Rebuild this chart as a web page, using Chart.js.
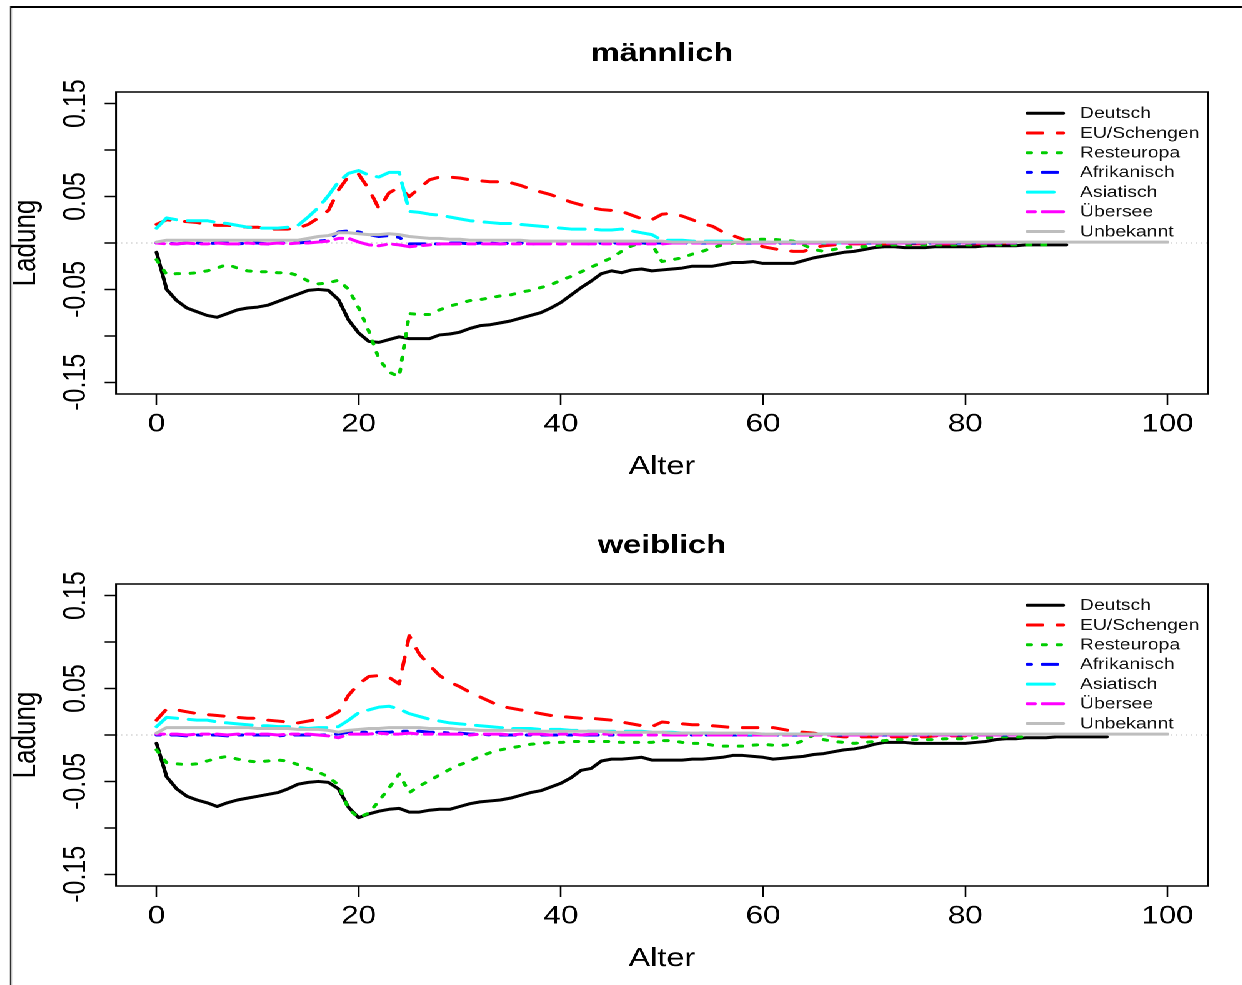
<!DOCTYPE html>
<html lang="de">
<head>
<meta charset="utf-8">
<title>Ladungen nach Alter</title>
<script src="https://cdn.jsdelivr.net/npm/chart.js@4/dist/chart.umd.min.js"></script>
<style>
  html, body { margin: 0; padding: 0; background: #fff; }
  body { width: 1242px; height: 985px; overflow: hidden; position: relative; }
  /* die Grafik ist breit gezogen: gezeichnet wird auf 994 px, angezeigt auf 1242 px */
  #blatt { position: absolute; left: 0; top: 0; width: 994px; height: 985px; transform: scaleX(1.25); transform-origin: 0 0; }
  #blatt canvas { position: absolute; left: 0; }
  #rahmen { position: absolute; left: 8.2px; top: 6px; right: 0; bottom: -4px; border-left: 1.8px solid #000; border-top: 2px solid #000; }
</style>
</head>
<body>
<div id="blatt">
  <div id="rahmen"></div>
  <canvas id="maennlich" width="994" height="492" style="top:0;width:994px;height:492px"></canvas>
  <canvas id="weiblich" width="994" height="492" style="top:492px;width:994px;height:492px"></canvas>
</div>
<script>
// Alter 0..100, Ladungen je Herkunftsgruppe
const alter = Array.from({ length: 101 }, (_, i) => i);
const xTicks = [0, 20, 40, 60, 80, 100];
const yTicks = [-0.15, -0.10, -0.05, 0, 0.05, 0.10, 0.15];
const yTickLabels = ['-0.15', '', '-0.05', '', '0.05', '', '0.15'];
const gruppen = ['Deutsch', 'EU/Schengen', 'Resteuropa', 'Afrikanisch', 'Asiatisch', 'Übersee', 'Unbekannt'];

// männlich
const mDeutsch = [
  -0.010, -0.050, -0.062, -0.070, -0.074, -0.078, -0.080, -0.076, -0.072, -0.070,
  -0.069, -0.067, -0.063, -0.059, -0.055, -0.051, -0.050, -0.051, -0.061, -0.083,
  -0.097, -0.106, -0.107, -0.104, -0.101, -0.103, -0.103, -0.103, -0.099, -0.098,
  -0.096, -0.092, -0.089, -0.088, -0.086, -0.084, -0.081, -0.078, -0.075, -0.070,
  -0.064, -0.056, -0.048, -0.041, -0.033, -0.030, -0.032, -0.029, -0.028, -0.030,
  -0.029, -0.028, -0.027, -0.025, -0.025, -0.025, -0.023, -0.021, -0.021, -0.020,
  -0.022, -0.022, -0.022, -0.022, -0.019, -0.016, -0.014, -0.012, -0.010, -0.009,
  -0.007, -0.005, -0.004, -0.004, -0.005, -0.005, -0.005, -0.004, -0.004, -0.004,
  -0.004, -0.004, -0.003, -0.003, -0.003, -0.003, -0.002, -0.002, -0.002, -0.002,
  -0.002
];
const mEU = [
  0.020, 0.025, 0.024, 0.023, 0.022, 0.020, 0.019, 0.019, 0.018, 0.017,
  0.017, 0.015, 0.015, 0.015, 0.016, 0.020, 0.027, 0.035, 0.057, 0.072,
  0.074, 0.058, 0.037, 0.054, 0.060, 0.050, 0.059, 0.068, 0.071, 0.071,
  0.070, 0.068, 0.067, 0.066, 0.066, 0.065, 0.062, 0.058, 0.055, 0.052,
  0.048, 0.044, 0.041, 0.038, 0.036, 0.035, 0.034, 0.030, 0.026, 0.025,
  0.031, 0.032, 0.029, 0.025, 0.021, 0.018, 0.012, 0.008, 0.004, 0.000,
  -0.004, -0.006, -0.008, -0.009, -0.009, -0.005, -0.003, -0.002, -0.001, -0.001,
  -0.001, -0.001, -0.001, -0.001, -0.001, -0.001, -0.001, -0.001, -0.001, -0.001,
  -0.001, -0.001, -0.001, 0.000, 0.000, 0.000
];
const mRest = [
  -0.018, -0.034, -0.033, -0.033, -0.032, -0.030, -0.027, -0.023, -0.027, -0.030,
  -0.031, -0.031, -0.032, -0.032, -0.035, -0.041, -0.044, -0.043, -0.040, -0.050,
  -0.070, -0.095, -0.125, -0.139, -0.144, -0.076, -0.077, -0.077, -0.072, -0.068,
  -0.065, -0.062, -0.061, -0.059, -0.057, -0.056, -0.053, -0.051, -0.048, -0.045,
  -0.040, -0.036, -0.031, -0.026, -0.021, -0.016, -0.009, -0.003, 0.000, -0.001,
  -0.020, -0.018, -0.016, -0.012, -0.009, -0.005, -0.002, 0.000, 0.003, 0.004,
  0.004, 0.004, 0.003, 0.002, -0.002, -0.007, -0.009, -0.007, -0.005, -0.004,
  -0.004, -0.003, -0.002, -0.002, -0.002, -0.002, -0.002, -0.002, -0.002, -0.002,
  -0.002, -0.002, -0.002, -0.002, -0.002, -0.002, -0.002, -0.002, -0.002
];
const mAfrika = [
  0.000, 0.000, -0.001, 0.000, 0.000, -0.001, 0.000, 0.000, -0.001, 0.000,
  0.000, -0.001, 0.000, 0.000, 0.000, 0.001, 0.002, 0.003, 0.012, 0.013,
  0.012, 0.009, 0.007, 0.008, 0.006, -0.001, -0.001, -0.001, -0.001, 0.000,
  0.000, -0.001, 0.000, 0.000, -0.001, 0.000, 0.000, -0.001, 0.000, 0.000,
  -0.001, 0.000, 0.000, -0.001, 0.000, 0.000, 0.000, -0.001, 0.000, 0.000,
  0.000, 0.000, 0.000, 0.000, 0.000, 0.000, 0.000, 0.000, 0.000, 0.000,
  0.000, 0.000, 0.000, 0.000, 0.000, 0.000, 0.000, 0.000, 0.000, 0.000,
  0.000, 0.000, 0.000, 0.000, 0.000, 0.000, 0.000, 0.000, 0.000, 0.000,
  0.000, 0.000, 0.000, 0.000, 0.000, 0.000
];
const mAsien = [
  0.016, 0.027, 0.025, 0.024, 0.024, 0.024, 0.022, 0.021, 0.019, 0.017,
  0.016, 0.016, 0.016, 0.017, 0.019, 0.028, 0.038, 0.051, 0.066, 0.075,
  0.078, 0.073, 0.071, 0.076, 0.076, 0.034, 0.033, 0.031, 0.030, 0.028,
  0.026, 0.024, 0.023, 0.022, 0.021, 0.021, 0.020, 0.019, 0.018, 0.017,
  0.016, 0.015, 0.015, 0.015, 0.014, 0.014, 0.015, 0.013, 0.011, 0.009,
  0.003, 0.003, 0.003, 0.002, 0.002, 0.002, 0.002, 0.002, 0.001, 0.001,
  0.001, 0.001, 0.001, 0.001, 0.001, 0.001, 0.000, 0.000, 0.000, 0.000,
  0.000
];
const mUebersee = [
  0.000, -0.001, -0.001, 0.000, -0.001, -0.001, 0.000, -0.001, -0.001, 0.000,
  -0.001, -0.001, 0.000, -0.001, 0.000, 0.000, 0.001, 0.002, 0.005, 0.005,
  0.001, -0.002, -0.003, -0.001, -0.002, -0.004, -0.003, -0.002, -0.001, -0.001,
  -0.001, -0.001, -0.001, -0.001, -0.001, -0.001, -0.001, -0.001, -0.001, -0.001,
  -0.001, -0.001, -0.001, -0.001, -0.001, -0.001, -0.001, -0.001, -0.001, -0.001,
  -0.001, 0.000, 0.000, 0.000, 0.000, 0.000, 0.000, 0.000, 0.000, 0.000,
  0.000, 0.000, 0.000, 0.000, 0.000, 0.000, 0.000, 0.000, 0.000, 0.000,
  0.000, 0.000, 0.000, 0.000, 0.000, 0.000, 0.000, 0.000, 0.000, 0.000,
  0.000, 0.000, 0.000, 0.000, 0.000, 0.000
];
const mUnbekannt = [
  0.001, 0.003, 0.003, 0.003, 0.003, 0.003, 0.003, 0.003, 0.003, 0.003,
  0.003, 0.003, 0.003, 0.003, 0.003, 0.005, 0.007, 0.008, 0.011, 0.011,
  0.010, 0.009, 0.009, 0.010, 0.009, 0.007, 0.006, 0.005, 0.005, 0.004,
  0.004, 0.003, 0.003, 0.003, 0.003, 0.003, 0.003, 0.002, 0.002, 0.002,
  0.002, 0.002, 0.002, 0.002, 0.002, 0.002, 0.002, 0.002, 0.002, 0.002,
  0.002, 0.001, 0.001, 0.001, 0.001, 0.001, 0.001, 0.001, 0.001, 0.001,
  0.001, 0.001, 0.001, 0.001, 0.001, 0.001, 0.001, 0.001, 0.001, 0.001,
  0.001, 0.001, 0.001, 0.001, 0.001, 0.001, 0.001, 0.001, 0.001, 0.001,
  0.001, 0.001, 0.001, 0.001, 0.001, 0.001, 0.001, 0.001, 0.001, 0.001,
  0.001, 0.001, 0.001, 0.001, 0.001, 0.001, 0.001, 0.001, 0.001, 0.001,
  0.001
];

// weiblich
const wDeutsch = [
  -0.009, -0.045, -0.058, -0.066, -0.070, -0.073, -0.077, -0.073, -0.070, -0.068,
  -0.066, -0.064, -0.062, -0.058, -0.053, -0.051, -0.050, -0.051, -0.058, -0.078,
  -0.089, -0.085, -0.082, -0.080, -0.079, -0.083, -0.083, -0.081, -0.080, -0.080,
  -0.077, -0.074, -0.072, -0.071, -0.070, -0.068, -0.065, -0.062, -0.060, -0.056,
  -0.052, -0.046, -0.038, -0.036, -0.028, -0.026, -0.026, -0.025, -0.024, -0.027,
  -0.027, -0.027, -0.027, -0.026, -0.026, -0.025, -0.024, -0.022, -0.022, -0.023,
  -0.024, -0.026, -0.025, -0.024, -0.023, -0.021, -0.020, -0.018, -0.016, -0.015,
  -0.013, -0.010, -0.008, -0.008, -0.008, -0.009, -0.009, -0.009, -0.009, -0.009,
  -0.009, -0.008, -0.007, -0.005, -0.004, -0.004, -0.003, -0.003, -0.003, -0.002,
  -0.002, -0.002, -0.002, -0.002, -0.002
];
const wEU = [
  0.016, 0.028, 0.027, 0.025, 0.023, 0.022, 0.021, 0.020, 0.019, 0.018,
  0.018, 0.016, 0.015, 0.014, 0.013, 0.015, 0.017, 0.019, 0.025, 0.043,
  0.055, 0.063, 0.064, 0.062, 0.055, 0.107, 0.087, 0.075, 0.064, 0.057,
  0.052, 0.046, 0.041, 0.036, 0.031, 0.029, 0.027, 0.025, 0.023, 0.021,
  0.020, 0.019, 0.018, 0.018, 0.017, 0.016, 0.014, 0.012, 0.010, 0.009,
  0.014, 0.013, 0.012, 0.011, 0.011, 0.010, 0.009, 0.008, 0.008, 0.008,
  0.008, 0.008, 0.006, 0.004, 0.003, 0.002, 0.000, -0.001, -0.002, -0.002,
  -0.002, -0.002, -0.002, -0.002, -0.002, -0.002, -0.002, -0.001, -0.001, -0.001,
  -0.001
];
const wRest = [
  -0.016, -0.030, -0.031, -0.032, -0.031, -0.028, -0.025, -0.023, -0.026, -0.028,
  -0.029, -0.028, -0.027, -0.028, -0.032, -0.036, -0.040, -0.045, -0.054, -0.080,
  -0.089, -0.084, -0.071, -0.057, -0.042, -0.062, -0.055, -0.049, -0.043, -0.037,
  -0.032, -0.028, -0.023, -0.019, -0.016, -0.014, -0.012, -0.010, -0.009, -0.008,
  -0.008, -0.007, -0.007, -0.007, -0.007, -0.007, -0.008, -0.008, -0.008, -0.008,
  -0.006, -0.006, -0.008, -0.009, -0.009, -0.011, -0.012, -0.012, -0.012, -0.011,
  -0.010, -0.011, -0.011, -0.010, -0.006, 0.000, -0.005, -0.007, -0.008, -0.009,
  -0.008, -0.007, -0.006, -0.005, -0.005, -0.005, -0.005, -0.005, -0.004, -0.004,
  -0.004, -0.003, -0.003, -0.002, -0.002, -0.002, -0.002
];
const wAfrika = [
  0.000, 0.000, 0.000, -0.001, 0.000, 0.000, 0.000, -0.001, 0.000, 0.000,
  0.000, 0.000, -0.001, 0.000, 0.000, 0.000, 0.000, 0.000, 0.001, 0.003,
  0.003, 0.003, 0.003, 0.003, 0.004, 0.004, 0.004, 0.003, 0.003, 0.002,
  0.002, 0.001, 0.001, 0.000, 0.000, 0.000, 0.000, 0.000, 0.000, 0.000,
  0.000, 0.000, 0.000, 0.000, 0.000, 0.000, 0.000, 0.000, 0.000, 0.000,
  0.000, 0.000, 0.000, 0.000, 0.000, 0.000, 0.000, 0.000, 0.000, 0.000,
  0.000, 0.000, 0.000, 0.000, 0.000, 0.000, 0.000, 0.000, 0.000, 0.000,
  0.000, 0.000, 0.000, 0.000, 0.000, 0.000, 0.000, 0.000, 0.000, 0.000,
  0.000, 0.000, 0.000, 0.000, 0.000, 0.000
];
const wAsien = [
  0.009, 0.019, 0.018, 0.017, 0.016, 0.016, 0.014, 0.013, 0.012, 0.011,
  0.010, 0.010, 0.009, 0.009, 0.008, 0.007, 0.008, 0.008, 0.009, 0.016,
  0.024, 0.027, 0.030, 0.031, 0.028, 0.023, 0.020, 0.017, 0.015, 0.013,
  0.012, 0.011, 0.010, 0.009, 0.008, 0.007, 0.007, 0.007, 0.006, 0.006,
  0.006, 0.005, 0.005, 0.004, 0.004, 0.004, 0.004, 0.004, 0.004, 0.003,
  0.003, 0.003, 0.002, 0.002, 0.002, 0.002, 0.001, 0.001, 0.001, 0.001,
  0.001, 0.001, 0.001, 0.001, 0.001, 0.001, 0.001, 0.001, 0.001, 0.001,
  0.001
];
const wUebersee = [
  0.001, 0.001, 0.001, 0.000, 0.001, 0.001, 0.001, 0.000, 0.001, 0.001,
  0.001, 0.001, 0.000, 0.001, 0.001, 0.001, 0.000, -0.001, -0.003, 0.001,
  0.001, 0.001, 0.002, 0.001, 0.001, 0.002, 0.001, 0.001, 0.001, 0.001,
  0.001, 0.000, 0.001, 0.001, 0.001, 0.000, 0.001, 0.001, 0.001, 0.000,
  0.001, 0.001, 0.000, 0.001, 0.001, 0.001, 0.000, 0.000, 0.000, 0.000,
  0.000, 0.000, 0.000, 0.000, 0.000, 0.000, 0.000, 0.000, 0.000, 0.000,
  0.000, 0.000, 0.000, 0.000, 0.000, 0.000, 0.000, 0.000, 0.000, 0.000,
  0.000, 0.000, 0.000, 0.000, 0.000, 0.000, 0.000, 0.000, 0.000, 0.000,
  0.000, 0.000, 0.000, 0.000, 0.000, 0.000
];
const wUnbekannt = [
  0.002, 0.008, 0.008, 0.008, 0.008, 0.008, 0.008, 0.008, 0.008, 0.008,
  0.007, 0.007, 0.007, 0.007, 0.006, 0.006, 0.006, 0.005, 0.003, 0.005,
  0.006, 0.007, 0.007, 0.008, 0.008, 0.008, 0.008, 0.007, 0.007, 0.007,
  0.006, 0.006, 0.005, 0.005, 0.005, 0.005, 0.005, 0.004, 0.004, 0.004,
  0.004, 0.004, 0.004, 0.004, 0.004, 0.003, 0.003, 0.003, 0.003, 0.003,
  0.003, 0.002, 0.002, 0.002, 0.002, 0.002, 0.002, 0.002, 0.002, 0.002,
  0.001, 0.001, 0.001, 0.001, 0.001, 0.001, 0.001, 0.001, 0.001, 0.001,
  0.001, 0.001, 0.001, 0.001, 0.001, 0.001, 0.001, 0.001, 0.001, 0.001,
  0.001, 0.001, 0.001, 0.001, 0.001, 0.001, 0.001, 0.001, 0.001, 0.001,
  0.001, 0.001, 0.001, 0.001, 0.001, 0.001, 0.001, 0.001, 0.001, 0.001,
  0.001
];

// Farben und Strichmuster wie in R (lty 1..6, lwd 3)
const farben = ['#000000', '#ff0000', '#00cd00', '#0000ff', '#00ffff', '#ff00ff', '#bebebe'];
const striche = [[], [12, 12], [3, 9], [3, 9, 12, 9], [21, 9], [6, 6, 18, 6], []];

const schrift = "'Liberation Sans', Arial, sans-serif";
Chart.defaults.font.family = schrift;
Chart.defaults.color = '#000';

// Nulllinie, Rahmen um die Plotfläche und Legende oben rechts
const rahmenPlugin = {
  id: 'rahmen',
  beforeDatasetsDraw(chart) {
    const { ctx, chartArea: a, scales } = chart;
    const y0 = scales.y.getPixelForValue(0);
    ctx.save();
    ctx.strokeStyle = '#bebebe';
    ctx.lineWidth = 1;
    ctx.setLineDash([1, 3]);
    ctx.beginPath();
    ctx.moveTo(a.left, y0);
    ctx.lineTo(a.right, y0);
    ctx.stroke();
    ctx.restore();
  },
  afterDraw(chart) {
    const { ctx, chartArea: a } = chart;
    ctx.save();
    ctx.strokeStyle = '#000';
    ctx.lineWidth = 1.5;
    ctx.strokeRect(a.left, a.top, a.right - a.left, a.bottom - a.top);

    ctx.font = '15.5px ' + schrift;
    ctx.textBaseline = 'middle';
    ctx.lineCap = 'round';
    chart.data.datasets.forEach((ds, i) => {
      const yy = a.top + 21.3 + i * 19.7;
      ctx.strokeStyle = ds.borderColor;
      ctx.lineWidth = 3;
      ctx.setLineDash(ds.borderDash);
      ctx.beginPath();
      ctx.moveTo(a.right - 144.4, yy);
      ctx.lineTo(a.right - 115.8, yy);
      ctx.stroke();
      ctx.setLineDash([]);
      ctx.fillStyle = '#111';
      ctx.fillText(ds.label, a.right - 102.4, yy + 0.5);
    });
    ctx.restore();
  }
};

function zeichne(canvasId, titel, reihen) {
  return new Chart(document.getElementById(canvasId), {
    type: 'line',
    data: {
      labels: alter,
      datasets: reihen.map((werte, i) => ({
        label: gruppen[i],
        data: werte,
        borderColor: farben[i],
        borderDash: striche[i],
        borderWidth: 3,
        borderCapStyle: 'round',
        borderJoinStyle: 'round',
        pointRadius: 0,
        tension: 0,
        fill: false,
        order: reihen.length - i // spätere Gruppen liegen oben
      }))
    },
    options: {
      responsive: false,
      animation: false,
      devicePixelRatio: 2,
      layout: { padding: { left: 0, right: 27.6, top: 0, bottom: 0 } },
      plugins: {
        legend: { display: false },
        tooltip: { enabled: false },
        title: {
          display: true,
          text: titel,
          fullSize: false,
          color: '#000',
          font: { size: 26, weight: 'bold' },
          padding: { top: 38.4, bottom: 22.4 }
        }
      },
      scales: {
        x: {
          type: 'linear',
          min: -4,
          max: 104,
          afterBuildTicks: s => { s.ticks = xTicks.map(v => ({ value: v })); },
          afterFit: s => { s.height = 98; },
          grid: { drawOnChartArea: false, drawTicks: true, tickLength: 11, tickColor: '#000', tickWidth: 1.3 },
          border: { display: false },
          ticks: { autoSkip: false, maxRotation: 0, padding: 4.5, color: '#000', font: { size: 25 }, callback: v => String(v) },
          title: { display: true, text: 'Alter', color: '#000', font: { size: 26 }, padding: { top: 0, bottom: 9.6 } }
        },
        y: {
          type: 'linear',
          min: -0.1626,
          max: 0.1626,
          afterBuildTicks: s => { s.ticks = yTicks.map(v => ({ value: v })); },
          afterFit: s => { s.width = 92.8; },
          grid: { drawOnChartArea: false, drawTicks: true, tickLength: 9.1, tickColor: '#000', tickWidth: 1.5 },
          border: { display: false },
          ticks: {
            autoSkip: false,
            minRotation: 90,
            maxRotation: 90,
            crossAlign: 'center',
            padding: -5.7,
            color: '#000',
            font: { size: 25 },
            callback: (v, i) => yTickLabels[i]
          },
          title: { display: true, text: 'Ladung', color: '#000', font: { size: 26 }, padding: { top: 5, bottom: 0 } }
        }
      }
    },
    plugins: [rahmenPlugin]
  });
}

zeichne('maennlich', 'männlich', [mDeutsch, mEU, mRest, mAfrika, mAsien, mUebersee, mUnbekannt]);
zeichne('weiblich', 'weiblich', [wDeutsch, wEU, wRest, wAfrika, wAsien, wUebersee, wUnbekannt]);
</script>
</body>
</html>
